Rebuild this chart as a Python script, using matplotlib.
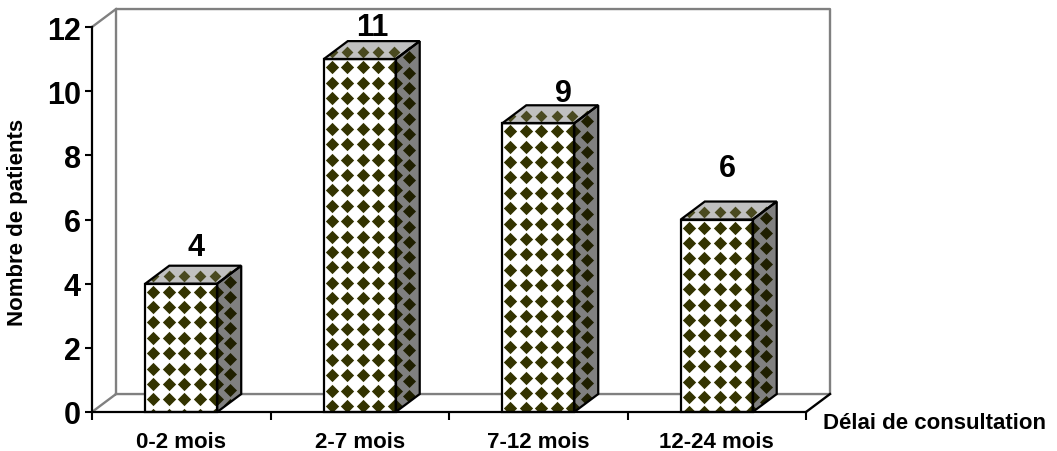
import numpy as np
import matplotlib
matplotlib.use('Agg')
import matplotlib.pyplot as plt
from matplotlib.patches import Polygon

plt.rcParams['font.family'] = ['Liberation Sans', 'DejaVu Sans']
plt.rcParams['font.weight'] = 'bold'

categories = ['0-2 mois', '2-7 mois', '7-12 mois', '12-24 mois']
patients = [4, 11, 9, 6]
y_ticks = [0, 2, 4, 6, 8, 10, 12]

# hand placed offsets of the value labels (x in categories, y in patients)
label_dx = [0.08, 0.07, 0.14, 0.06]
label_dy = [1.15, 1.0, 0.95, 1.6]

bar_width = 0.403
depth_x = 0.1345
depth_y = 0.56
pitch_x = 0.0864
pitch_y = 0.48
diamond = '#333300'
dark = '#1f1f00'

fig = plt.figure(figsize=(10.57, 4.52), dpi=100)
ax = fig.add_axes([92 / 1057, 39 / 452, 714 / 1057, 385 / 452])
ax.set_xlim(0, len(categories))
ax.set_ylim(0, y_ticks[-1])
ax.patch.set_visible(False)


def wall_line(xs, ys, color='#808080', z=1):
    ax.plot(xs, ys, color=color, lw=1.7, zorder=z, clip_on=False, solid_capstyle='projecting')


x_max = len(categories)
y_max = y_ticks[-1]
wall_line([0, depth_x, depth_x, x_max + depth_x, x_max + depth_x, depth_x],
          [0, depth_y, y_max + depth_y, y_max + depth_y, depth_y, depth_y])
wall_line([0, depth_x], [y_max, y_max + depth_y])
wall_line([x_max, x_max + depth_x], [0, depth_y], color='black')


def textured_face(corners, face, xs, ys, color, size):
    poly = Polygon(corners, closed=True, facecolor=face, edgecolor='none', zorder=3, clip_on=False)
    ax.add_patch(poly)
    dots = ax.scatter(xs, ys, marker='D', s=size, color=color, linewidths=0, zorder=4)
    dots.set_clip_path(poly)
    ax.add_patch(Polygon(corners, closed=True, fill=False, edgecolor='black', lw=1.6,
                         joinstyle='miter', zorder=5, clip_on=False))


for i, value in enumerate(patients):
    center = i + 0.5
    x0 = center - bar_width / 2
    x1 = center + bar_width / 2

    # front face
    front = [(x0, 0), (x1, 0), (x1, value), (x0, value)]
    gx, gy = np.meshgrid(np.arange(x0 + 0.045, x1 + 0.05, pitch_x),
                         np.arange(value - 0.25, -0.5, -pitch_y))
    textured_face(front, 'white', gx.ravel(), gy.ravel(), diamond, 46)

    # side face
    side = [(x1, 0), (x1 + depth_x, depth_y), (x1 + depth_x, value + depth_y), (x1, value)]
    sx, sy = [], []
    for t in [0.0, 0.55]:
        col = np.arange(value + depth_y * t - 0.25, -0.6, -pitch_y)
        sx.extend([x1 + depth_x * t] * len(col))
        sy.extend(col)
    textured_face(side, '#808080', sx, sy, dark, 44)

    # top face
    top = [(x0, value), (x1, value), (x1 + depth_x, value + depth_y), (x0 + depth_x, value + depth_y)]
    tx = np.arange(x0 + 0.045, x1 + depth_x, pitch_x)
    ty = np.full(len(tx), value + depth_y * 0.42)
    textured_face(top, '#c0c0c0', tx, ty, '#4a4a20', 36)

    ax.text(center + label_dx[i], value + label_dy[i], str(value), ha='center', va='center',
            fontsize=22, fontweight='bold', zorder=6, clip_on=False)

for side_name in ['top', 'right']:
    ax.spines[side_name].set_visible(False)
for side_name in ['left', 'bottom']:
    ax.spines[side_name].set_linewidth(1.6)
    ax.spines[side_name].set_zorder(7)

ax.set_yticks(y_ticks)
ax.tick_params(axis='y', length=5, width=1.5, labelsize=22, pad=3)
ax.set_xticks(range(len(categories) + 1))
ax.set_xticklabels([])
ax.tick_params(axis='x', which='major', length=5.5, width=1.5)
ax.set_xticks([i + 0.5 for i in range(len(categories))], minor=True)
ax.set_xticklabels(categories, minor=True, fontsize=16, fontweight='bold')
ax.tick_params(axis='x', which='minor', length=0, pad=14)

fig.text(18 / 1057, 1 - 222 / 452, 'Nombre de patients', rotation=90, ha='center', va='center',
         fontsize=16, fontweight='bold')
fig.text(823 / 1057, 1 - 424 / 452, 'Délai de consultation', ha='left', va='center',
         fontsize=16, fontweight='bold')

fig.savefig('out.png', dpi=100)
